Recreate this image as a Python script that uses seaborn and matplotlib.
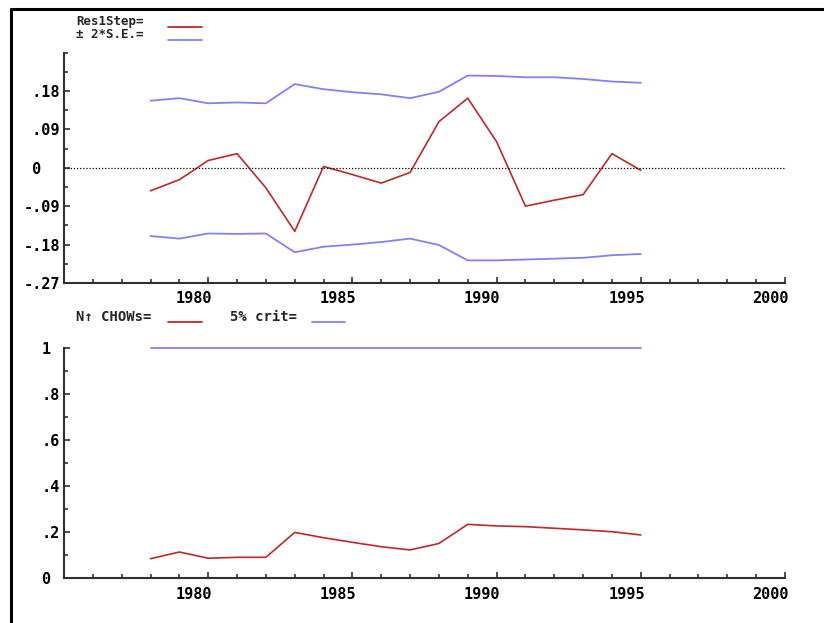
import numpy as np
import pandas as pd
import seaborn as sns
import matplotlib.pyplot as plt
import matplotlib.transforms as mtransforms
from matplotlib.lines import Line2D
from matplotlib.ticker import MultipleLocator, FixedLocator

# data
years = [1978, 1979, 1980, 1981, 1982, 1983, 1984, 1985, 1986,
         1987, 1988, 1989, 1990, 1991, 1992, 1993, 1994, 1995]
res1step = [-0.054, -0.028, 0.017, 0.033, -0.047, -0.149, 0.003, -0.016, -0.036,
            -0.011, 0.108, 0.163, 0.061, -0.090, -0.076, -0.063, 0.033, -0.006]
se_upper = [0.157, 0.163, 0.151, 0.153, 0.151, 0.196, 0.184, 0.177, 0.172,
            0.163, 0.178, 0.216, 0.215, 0.212, 0.212, 0.208, 0.202, 0.199]
se_lower = [-0.160, -0.166, -0.154, -0.155, -0.154, -0.198, -0.185, -0.180, -0.174,
            -0.166, -0.181, -0.217, -0.217, -0.215, -0.213, -0.211, -0.205, -0.202]
chows = [0.085, 0.114, 0.087, 0.091, 0.091, 0.199, 0.176, 0.156, 0.137,
         0.123, 0.151, 0.234, 0.227, 0.224, 0.217, 0.210, 0.202, 0.188]
crit5 = [1, 1, 1, 1, 1, 1, 1, 1, 1, 1, 1, 1, 1, 1, 1, 1, 1, 1]

top_ticks = [-0.27, -0.18, -0.09, 0, 0.09, 0.18]
top_labels = ["-.27", "-.18", "-.09", " 0  ", " .09", " .18"]
bot_ticks = [0, 0.2, 0.4, 0.6, 0.8, 1]
bot_labels = ["0 ", ".2", ".4", ".6", ".8", "1 "]
x_ticks = [1980, 1985, 1990, 1995, 2000]

sns.set_style("ticks")
plt.rcParams['font.family'] = ['DejaVu Sans Mono', 'DejaVu Sans']
plt.rcParams['font.weight'] = 'bold'

RED = "#c02828"
BLUE = "#8080ff"
AX_COL = "#303030"

df1 = pd.DataFrame({"year": years, "res": res1step, "up": se_upper, "lo": se_lower})
df2 = pd.DataFrame({"year": years, "chow": chows, "crit": crit5})

fig = plt.figure(figsize=(8.24, 6.23), dpi=100)
W, H = 824, 623
ax1 = fig.add_axes([64 / W, 1 - 283 / H, 721 / W, 230.5 / H])
ax2 = fig.add_axes([64 / W, 1 - 578.3 / H, 721 / W, 230.6 / H])

sns.lineplot(data=df1, x="year", y="up", ax=ax1, color=BLUE, lw=1.3)
sns.lineplot(data=df1, x="year", y="lo", ax=ax1, color=BLUE, lw=1.3)
sns.lineplot(data=df1, x="year", y="res", ax=ax1, color=RED, lw=1.2)
ax1.axhline(0, color="black", lw=0.9, ls=(0, (1, 1.5)))
ax1.set_ylim(-0.27, 0.27)
ax1.yaxis.set_major_locator(FixedLocator(top_ticks))
ax1.set_yticklabels(top_labels)
ax1.yaxis.set_minor_locator(MultipleLocator(0.045))

sns.lineplot(data=df2, x="year", y="crit", ax=ax2, color=BLUE, lw=1.3)
sns.lineplot(data=df2, x="year", y="chow", ax=ax2, color=RED, lw=1.2)
ax2.set_ylim(0, 1)
ax2.yaxis.set_major_locator(FixedLocator(bot_ticks))
ax2.set_yticklabels(bot_labels)
ax2.yaxis.set_minor_locator(MultipleLocator(0.1))

offset = mtransforms.ScaledTranslation(4 / 100, 0, fig.dpi_scale_trans)
for ax in (ax1, ax2):
    ax.set_xlim(1975, 2000)
    ax.xaxis.set_major_locator(FixedLocator(x_ticks))
    ax.xaxis.set_minor_locator(MultipleLocator(1))
    ax.set_xticklabels([str(t) for t in x_ticks])
    ax.set_xlabel("")
    ax.set_ylabel("")
    for ln in ax.lines:
        ln.set_clip_on(False)
    for s in ("top", "right"):
        ax.spines[s].set_visible(False)
    for s in ("left", "bottom"):
        ax.spines[s].set_color(AX_COL)
        ax.spines[s].set_linewidth(1.5)
    ax.tick_params(which="both", direction="in", color=AX_COL, width=1.2,
                   bottom=True, left=True, top=False, right=False,
                   labelsize=11, labelcolor="black")
    ax.tick_params(which="major", length=4.5)
    ax.tick_params(which="minor", length=3)
    ax.tick_params(axis="x", pad=6)
    ax.tick_params(axis="y", pad=3)
    for lab in ax.get_xticklabels():
        lab.set_horizontalalignment("right")
        lab.set_transform(lab.get_transform() + offset)
        lab.set_fontweight("bold")
    for lab in ax.get_yticklabels():
        lab.set_fontweight("bold")

# legends as in the original output
def fy(p):
    return 1 - p / H

fig.text(76 / W, fy(21), "Res1Step=", fontsize=9, fontweight="bold", va="center")
fig.add_artist(Line2D([168 / W, 202 / W], [fy(27), fy(27)], color=RED, lw=1.3))
fig.text(76 / W, fy(35), "± 2*S.E.=", fontsize=9, fontweight="bold", va="center")
fig.add_artist(Line2D([168 / W, 202 / W], [fy(40), fy(40)], color=BLUE, lw=1.3))

fig.text(76 / W, fy(317), "N↑ CHOWs=", fontsize=10, fontweight="bold", va="center")
fig.add_artist(Line2D([168 / W, 202 / W], [fy(322), fy(322)], color=RED, lw=1.3))
fig.text(230 / W, fy(317), "5% crit=", fontsize=10, fontweight="bold", va="center")
fig.add_artist(Line2D([312 / W, 345 / W], [fy(322), fy(322)], color=BLUE, lw=1.3))

# page frame (cropped)
fig.add_artist(Line2D([11 / W, 11 / W], [0, fy(9)], color="black", lw=2.2))
fig.add_artist(Line2D([11 / W, 1], [fy(9), fy(9)], color="black", lw=2.2))

fig.savefig("out.png", dpi=100)
